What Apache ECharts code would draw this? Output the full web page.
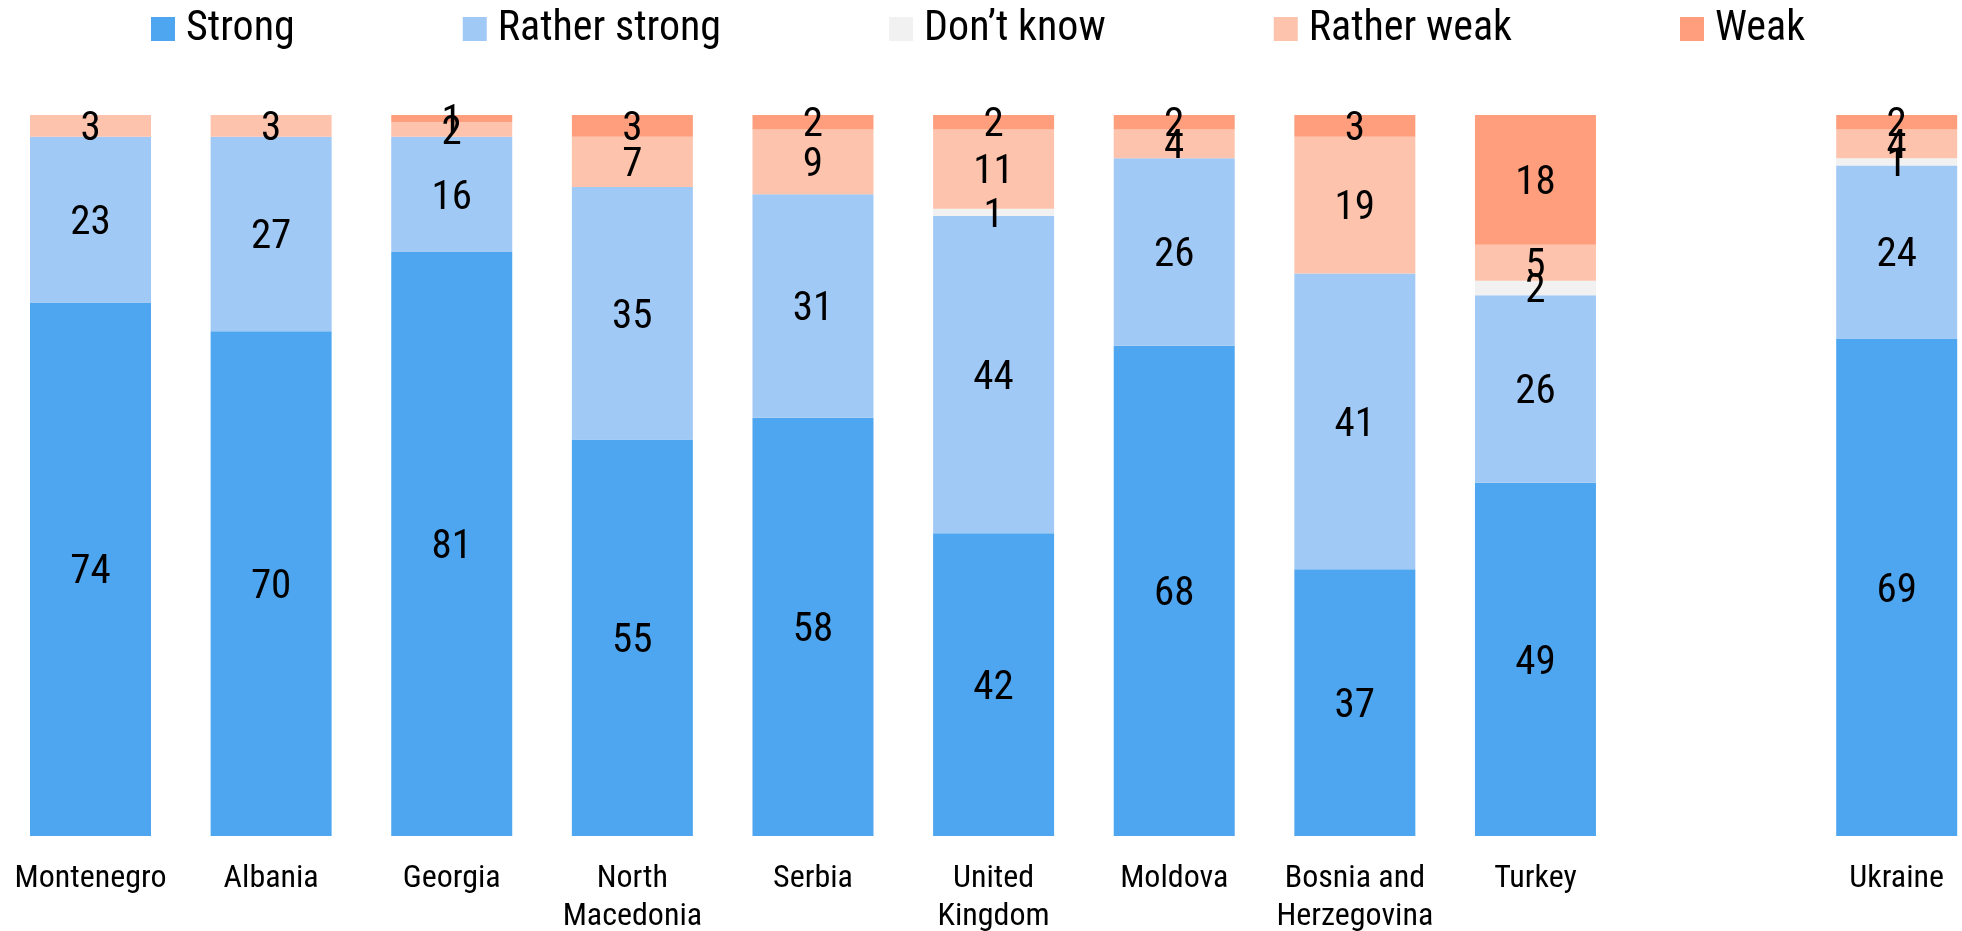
<!DOCTYPE html>
<html>
<head>
<meta charset="utf-8">
<script src="https://cdn.jsdelivr.net/npm/echarts@6/dist/echarts.min.js"></script>
<style>html,body{margin:0;padding:0;background:#fff}#c{width:1962px;height:931px}</style>
</head>
<body>
<div id="c"></div>
<script>
const categories = ['Montenegro','Albania','Georgia','North\nMacedonia','Serbia','United\nKingdom','Moldova','Bosnia and\nHerzegovina','Turkey','','Ukraine'];
const strong       = [74, 70, 81, 55, 58, 42, 68, 37, 49, null, 69];
const ratherStrong = [23, 27, 16, 35, 31, 44, 26, 41, 26, null, 24];
const dontKnow     = [null, null, null, null, null, 1, null, null, 2, null, 1];
const ratherWeak   = [3, 3, 2, 7, 9, 11, 4, 19, 5, null, 4];
const weak         = [null, null, 1, 3, 2, 2, 2, 3, 18, null, 2];
const seriesNames  = ['Strong','Rather strong','Don\u2019t know','Rather weak','Weak'];
const colors = ['#4DA6EF','#A1C9F5','#F1F1F1','#FEC3AC','#FE9E7C'];

const FONT = '"Roboto Condensed","Liberation Sans Narrow","DejaVu Sans Condensed",Roboto,sans-serif';
const chart = echarts.init(document.getElementById('c'));
const mk = (name, data, color) => ({
  name, type: 'bar', stack: 'all', data, barWidth: 121,
  itemStyle: { color },
  label: { show: true, position: 'inside', offset: [0, 4], color: '#000', fontFamily: FONT, fontSize: 41,
    formatter: p => (p.value == null ? '' : p.value) },
  emphasis: { disabled: true }
});
chart.setOption({
  animation: false,
  color: colors,
  legend: {
    top: 3, left: 146, itemWidth: 24, itemHeight: 24, itemGap: 168,
    icon: 'rect',
    textStyle: { fontFamily: FONT, fontSize: 42, color: '#000', padding: [0, 0, 0, 6] },
    data: seriesNames
  },
  grid: { left: 90.5, right: 65.3, top: 115, bottom: 95, containLabel: false, outerBoundsMode: 'none' },
  xAxis: {
    type: 'category', data: categories, boundaryGap: false,
    axisLine: { show: false }, axisTick: { show: false },
    axisLabel: { interval: 0, fontFamily: FONT, fontSize: 32, color: '#000', margin: 24, lineHeight: 38 }
  },
  yAxis: { type: 'value', min: 0, max: 100, show: false, splitLine: { show: false } },
  series: [
    mk(seriesNames[0], strong, colors[0]),
    mk(seriesNames[1], ratherStrong, colors[1]),
    mk(seriesNames[2], dontKnow, colors[2]),
    mk(seriesNames[3], ratherWeak, colors[3]),
    mk(seriesNames[4], weak, colors[4])
  ]
});
</script>
</body>
</html>
